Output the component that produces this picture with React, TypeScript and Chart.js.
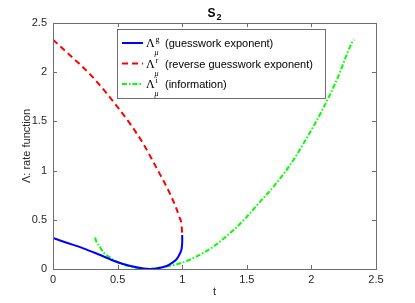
import React, { useEffect, useRef } from "react";
import { Chart, registerables } from "chart.js";

Chart.register(...registerables);

// ---- data ----
const blueT = [0, 0.1, 0.235, 0.35, 0.49, 0.6, 0.7, 0.75, 0.8, 0.88, 0.93, 0.957, 0.98, 0.995, 1.0, 1.0];
const blueV = [0.315, 0.27, 0.21, 0.15, 0.074, 0.03, 0.004, 0.0, 0.005, 0.03, 0.07, 0.1, 0.15, 0.2, 0.27, 0.345];

const redT = [0, 0.1, 0.2, 0.3, 0.4, 0.5, 0.6, 0.7, 0.8, 0.9, 0.95, 0.98, 0.995, 1.0];
const redV = [2.33, 2.21, 2.09, 1.96, 1.81, 1.645, 1.47, 1.27, 1.03, 0.78, 0.63, 0.52, 0.45, 0.345];

const greenT = [0.325, 0.335, 0.36, 0.39, 0.45, 0.52, 0.6, 0.72, 0.8, 0.88, 1.0, 1.1, 1.24, 1.4, 1.5, 1.6, 1.705, 1.834, 1.95, 2.07, 2.196, 2.31, 2.33];
const greenV = [0.32, 0.28, 0.23, 0.17, 0.11, 0.058, 0.025, 0.0, 0.006, 0.025, 0.065, 0.12, 0.226, 0.4, 0.53, 0.68, 0.835, 1.055, 1.3, 1.58, 1.92, 2.29, 2.33];

const xTicks = [0, 0.5, 1, 1.5, 2, 2.5];
const yTicks = [0, 0.5, 1, 1.5, 2, 2.5];

const legendSup = ["g", "r", "i"];
const legendDesc = ["(guesswork exponent)", "(reverse guesswork exponent)", "(information)"];
const titleMain = "S";
const titleSub = "2";
const xTitle = "t";
const yTitle = "\u039B: rate function";

const SANS = "'Liberation Sans', Arial, Helvetica, sans-serif";
const SERIF = "'Liberation Serif', 'DejaVu Serif', serif";
const AXIS = "#6f6f6f";
const TEXT = "#262626";

const zip = (t: number[], v: number[]) => t.map((x, i) => ({ x, y: v[i] }));

const styles = [
  { color: "#0000ff", dash: [] as number[] },
  { color: "#ff0000", dash: [6, 4] },
  { color: "#00ff00", dash: [5, 2, 1.5, 2] },
];

const decorPlugin = {
  id: "decor",
  afterDraw(chart: any) {
    const ctx = chart.ctx as CanvasRenderingContext2D;
    const { left, right, top, bottom } = chart.chartArea;
    const xs = chart.scales.x;
    const ys = chart.scales.y;
    ctx.save();
    ctx.strokeStyle = AXIS;
    ctx.lineWidth = 1;
    ctx.setLineDash([]);
    ctx.strokeRect(Math.round(left) + 0.5, Math.round(top) + 0.5, Math.round(right - left), Math.round(bottom - top));
    const tl = 4;
    ctx.beginPath();
    xTicks.forEach((t) => {
      const px = Math.round(xs.getPixelForValue(t)) + 0.5;
      ctx.moveTo(px, bottom);
      ctx.lineTo(px, bottom - tl);
      ctx.moveTo(px, top);
      ctx.lineTo(px, top + tl);
    });
    yTicks.forEach((v) => {
      const py = Math.round(ys.getPixelForValue(v)) + 0.5;
      ctx.moveTo(left, py);
      ctx.lineTo(left + tl, py);
      ctx.moveTo(right, py);
      ctx.lineTo(right - tl, py);
    });
    ctx.stroke();

    // title
    ctx.fillStyle = "#000";
    ctx.textBaseline = "alphabetic";
    ctx.textAlign = "left";
    ctx.font = `bold 12px ${SANS}`;
    const cx = (left + right) / 2;
    const wS = ctx.measureText(titleMain).width;
    ctx.font = `bold 9px ${SANS}`;
    const w2 = ctx.measureText(titleSub).width;
    const tx = cx - (wS + w2 + 1) / 2;
    ctx.font = `bold 12px ${SANS}`;
    ctx.fillText(titleMain, tx, 17);
    ctx.font = `bold 9px ${SANS}`;
    ctx.fillText(titleSub, tx + wS + 1, 20);

    // axis titles
    ctx.fillStyle = TEXT;
    ctx.font = `11px ${SANS}`;
    ctx.textAlign = "center";
    ctx.textBaseline = "middle";
    ctx.fillText(xTitle, cx, 292);
    ctx.save();
    ctx.translate(27, (top + bottom) / 2);
    ctx.rotate(-Math.PI / 2);
    ctx.fillText(yTitle, 0, 0);
    ctx.restore();

    // legend
    const bx = 117, by = 29, bw = 208, bh = 69;
    ctx.fillStyle = "#fff";
    ctx.fillRect(bx, by, bw, bh);
    ctx.strokeStyle = AXIS;
    ctx.lineWidth = 1;
    ctx.strokeRect(bx + 0.5, by + 0.5, bw, bh);
    const rows = [43, 63.5, 84];
    rows.forEach((ry, i) => {
      ctx.strokeStyle = styles[i].color;
      ctx.lineWidth = 2;
      ctx.setLineDash(styles[i].dash);
      ctx.beginPath();
      ctx.moveTo(122, ry);
      ctx.lineTo(143, ry);
      ctx.stroke();
      ctx.setLineDash([]);
      ctx.fillStyle = "#000";
      ctx.textAlign = "left";
      ctx.textBaseline = "alphabetic";
      ctx.font = `12px ${SERIF}`;
      ctx.fillText("\u039B", 146, ry + 4);
      ctx.font = `8px ${SERIF}`;
      ctx.fillText(legendSup[i], 155.5, ry - 1);
      ctx.font = `italic 8px ${SERIF}`;
      ctx.fillText("\u03BC", 154.5, ry + 12);
      ctx.font = `11px ${SANS}`;
      ctx.fillText(legendDesc[i], 165, ry + 4);
    });
    ctx.restore();
  },
};

export default function App() {
  const ref = useRef<HTMLCanvasElement | null>(null);
  useEffect(() => {
    document.body.style.margin = "0";
    const canvas = ref.current!;
    const mk = (t: number[], v: number[], i: number, mono: boolean) => ({
      data: zip(t, v),
      borderColor: styles[i].color,
      borderWidth: 2,
      borderDash: styles[i].dash,
      pointRadius: 0,
      fill: false,
      tension: 0.3,
      cubicInterpolationMode: mono ? "monotone" : "default",
    });
    const chart = new Chart(canvas, {
      type: "line",
      data: {
        datasets: [mk(blueT, blueV, 0, false), mk(redT, redV, 1, true), mk(greenT, greenV, 2, true)],
      },
      options: {
        responsive: false,
        animation: false,
        events: [],
        layout: { padding: { left: 0, top: 23, right: 39, bottom: 0 } },
        plugins: { legend: { display: false }, title: { display: false }, tooltip: { enabled: false } },
        scales: {
          x: {
            type: "linear",
            min: 0,
            max: 2.5,
            afterBuildTicks: (s: any) => {
              s.ticks = xTicks.map((value) => ({ value }));
            },
            afterFit: (s: any) => {
              s.height = 34;
            },
            grid: { display: false, drawTicks: false },
            border: { display: false },
            ticks: {
              padding: 4,
              color: TEXT,
              font: { family: SANS, size: 11 },
              maxRotation: 0,
              callback: (v: any) => String(v),
            },
          },
          y: {
            type: "linear",
            min: 0,
            max: 2.5,
            afterBuildTicks: (s: any) => {
              s.ticks = yTicks.map((value) => ({ value }));
            },
            afterFit: (s: any) => {
              s.width = 53;
            },
            grid: { display: false, drawTicks: false },
            border: { display: false },
            ticks: {
              padding: 6,
              color: TEXT,
              font: { family: SANS, size: 11 },
              callback: (v: any) => String(v),
            },
          },
        },
      },
      plugins: [decorPlugin],
    } as any);
    return () => chart.destroy();
  }, []);
  return (
    <div style={{ position: "fixed", left: 0, top: 0, width: 415, height: 303, background: "#fff" }}>
      <canvas ref={ref} width={415} height={303} style={{ width: 415, height: 303 }} />
    </div>
  );
}
